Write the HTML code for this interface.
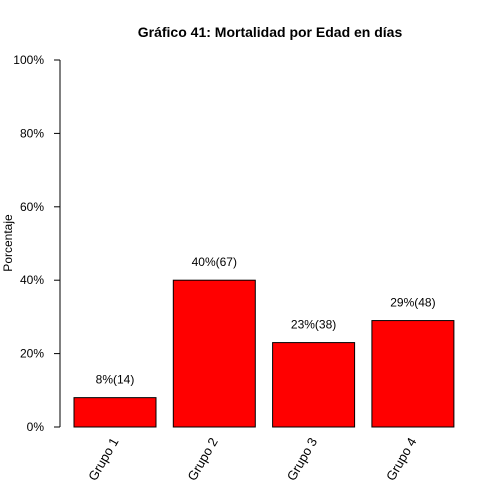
<!DOCTYPE html>
<html><head><meta charset="utf-8"><style>body{margin:0;background:#fff}svg{display:block;font-family:"Liberation Sans",Arial,sans-serif}</style></head>
<body>
<svg id="chart" width="500" height="500">
<rect width="500" height="500" fill="#fff"/>
<text x="270" y="37" text-anchor="middle" font-size="14" font-weight="bold">Gráfico 41: Mortalidad por Edad en días</text>
<text transform="translate(12,243) rotate(-90)" text-anchor="middle" font-size="12">Porcentaje</text>
<g id="yaxis"></g>
<g id="bars"></g>
</svg>
<script>
const categories = ["Grupo 1","Grupo 2","Grupo 3","Grupo 4"];
const values = [8,40,23,29];
const counts = [14,67,38,48];
const yTicks = [0,20,40,60,80,100];
const NS="http://www.w3.org/2000/svg";
const y0=427, y1=60;
function yScale(v){return y0-(v/100)*(y0-y1);}
function xLeft(i){return 74+i*99.3;}
const bw=82;
function mk(t,a,p){const e=document.createElementNS(NS,t);for(const k in a)e.setAttribute(k,a[k]);p.appendChild(e);return e;}
const ya=document.getElementById('yaxis'), bg=document.getElementById('bars');
const axl=mk('line',{x1:60,x2:60,y1:yScale(0),y2:yScale(100),stroke:'#000'},ya);


yTicks.forEach(t=>{
  const l=mk('line',{x1:54,x2:60,y1:yScale(t),y2:yScale(t),stroke:'#000'},ya);
  
  
  const tx=mk('text',{x:44,y:yScale(t)+4,'text-anchor':'end','font-size':12},ya);
  tx.textContent=t+'%';
  
  
});
categories.forEach((c,i)=>{
  const x=xLeft(i), y=yScale(values[i]);
  const r=mk('rect',{x:x,y:y,width:bw,height:y0-y,fill:'#ff0000',stroke:'#000'},bg);
  
  
  const lb=mk('text',{x:x+bw/2,y:y-14,'text-anchor':'middle','font-size':12},bg);
  lb.textContent=values[i]+'%('+counts[i]+')';
  
  
  const cx=x+bw/2+4;
  const xl=mk('text',{x:cx,y:441,'text-anchor':'end','font-size':13,transform:'rotate(-60 '+cx+' 441)'},bg);
  xl.textContent=c;
  
  
});
</script>
</body></html>
